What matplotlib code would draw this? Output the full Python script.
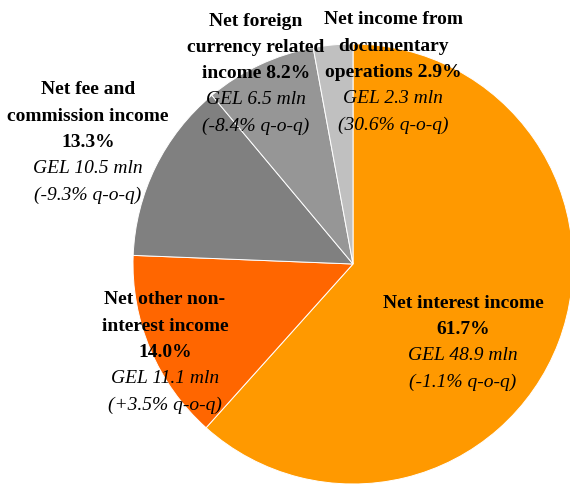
import matplotlib.pyplot as plt

# income structure, share of total (%)
segments = ['Net interest income', 'Net other non-interest income',
            'Net fee and commission income', 'Net foreign currency related income',
            'Net income from documentary operations']
shares = [61.7, 14.0, 13.3, 8.2, 2.9]
amounts = [48.9, 11.1, 10.5, 6.5, 2.3]          # GEL mln
qoq = ['-1.1%', '+3.5%', '-9.3%', '-8.4%', '30.6%']

# bold heading lines for each slice, {} gets the share
headings = ['Net interest income\n{:.1f}%',
            'Net other non-\ninterest income\n{:.1f}%',
            'Net fee and\ncommission income\n{:.1f}%',
            'Net foreign\ncurrency related\nincome {:.1f}%',
            'Net income from\ndocumentary\noperations {:.1f}%']
colors = ['#FF9900', '#FF6600', '#808080', '#969696', '#C0C0C0']

# label anchors in pixels (x centre, y of first line from the top)
label_pos = [(463, 303), (165, 300), (88, 90), (256, 21), (393, 20)]

W, H = 570, 485
fig = plt.figure(figsize=(W / 100, H / 100), dpi=100)
ax = fig.add_axes([0, 0, 1, 1])
ax.set_xlim(0, W)
ax.set_ylim(0, H)
ax.set_aspect('equal')
ax.axis('off')

ax.pie(shares, colors=colors, startangle=90, counterclock=False,
       center=(353, H - 265), radius=220,
       wedgeprops=dict(edgecolor='white', linewidth=0.7))
ax.set_xlim(0, W)
ax.set_ylim(0, H)

step = 26.3
for i in range(len(shares)):
    x, y = label_pos[i]
    lines = headings[i].format(shares[i]).split('\n')
    for ln in lines:
        ax.text(x, H - y, ln, ha='center', va='center', fontsize=14,
                fontweight='bold', family='Liberation Serif', color='black')
        y += step
    for ln in ['GEL %.1f mln' % amounts[i], '(%s q-o-q)' % qoq[i]]:
        ax.text(x, H - y, ln, ha='center', va='center', fontsize=14,
                style='italic', family='Liberation Serif', color='black')
        y += step

plt.savefig('out.png', dpi=100)
